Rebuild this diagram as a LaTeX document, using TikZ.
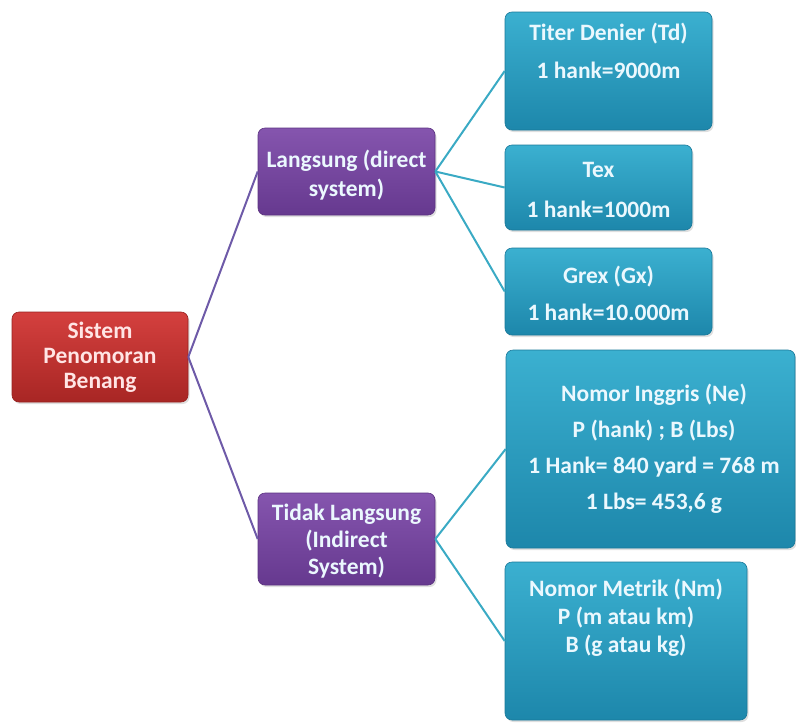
\documentclass[tikz,border=0pt]{standalone}
\usepackage{fontspec}
\setmainfont{Carlito}
\usetikzlibrary{shadows}
\definecolor{redtop}{HTML}{D4403E}
\definecolor{redbot}{HTML}{A82624}
\definecolor{purtop}{HTML}{8555AE}
\definecolor{purbot}{HTML}{66398F}
\definecolor{cyantop}{HTML}{3BB0D0}
\definecolor{cyanbot}{HTML}{1D87AB}
\definecolor{purline}{HTML}{6E5AA8}
\definecolor{cyanline}{HTML}{3AAAC4}
\begin{document}
\begin{tikzpicture}[x=1pt,y=-1pt,
  box/.style={rectangle, rounded corners=7pt, inner sep=0pt,
    drop shadow={shadow xshift=1.5pt, shadow yshift=-2pt, opacity=0.25}},
  redbox/.style={box, top color=redtop, bottom color=redbot, draw=redbot!90!black, line width=0.6pt},
  purbox/.style={box, top color=purtop, bottom color=purbot, draw=purbot!90!black, line width=0.6pt},
  cyanbox/.style={box, top color=cyantop, bottom color=cyanbot, draw=cyanbot!90!black, line width=0.6pt},
  lbl/.style={text=white!92!cyan, align=center, inner sep=0pt},
  pline/.style={draw=purline, line width=2pt},
  cline/.style={draw=cyanline, line width=2pt}
]
\useasboundingbox (0,0) rectangle (796,726);

% boxes
\node[redbox, minimum width=176pt, minimum height=90pt] (root) at (100,357) {};
\node[purbox, minimum width=177pt, minimum height=87pt] (dir) at (346.5,171.5) {};
\node[purbox, minimum width=177pt, minimum height=92pt] (ind) at (346.5,539) {};
\node[cyanbox, minimum width=207pt, minimum height=118pt] (td) at (608.5,71) {};
\node[cyanbox, minimum width=187pt, minimum height=85pt] (tex) at (598.5,187.5) {};
\node[cyanbox, minimum width=207pt, minimum height=87pt] (gx) at (608.5,291.5) {};
\node[cyanbox, minimum width=289pt, minimum height=198pt] (ne) at (650.5,449) {};
\node[cyanbox, minimum width=242pt, minimum height=158pt] (nm) at (626,641) {};

% connectors
\draw[pline] (root.east) -- (dir.west);
\draw[pline] (root.east) -- (ind.west);
\draw[cline] (dir.east) -- (td.west);
\draw[cline] (dir.east) -- (tex.west);
\draw[cline] (dir.east) -- (gx.west);
\draw[cline] (ind.east) -- (ne.west);
\draw[cline] (ind.east) -- (nm.west);

% texts
\node[lbl, text=white!90!red, font=\bfseries\fontsize{23.5}{25}\selectfont] (troot) at (root.center) {Sistem\\Penomoran\\Benang};
\node[lbl, font=\bfseries\fontsize{23.5}{29}\selectfont] (tdir) at (346.5,175) {Langsung (direct\\system)};
\node[lbl, font=\bfseries\fontsize{23.5}{27}\selectfont] (tind) at (346.5,541) {Tidak Langsung\\(Indirect\\System)};
\node[lbl, font=\bfseries\fontsize{23.5}{38}\selectfont] (ttd) at (608.5,51) {Titer Denier (Td)\\1 hank=9000m};
\node[lbl, font=\bfseries\fontsize{23.5}{40}\selectfont] (ttex) at (598.5,190) {Tex\\1 hank=1000m};
\node[lbl, font=\bfseries\fontsize{23.5}{37}\selectfont] (tgx) at (608.5,293) {Grex (Gx)\\1 hank=10.000m};
\node[lbl, font=\bfseries\fontsize{23.5}{36}\selectfont] (tne) at (654,449) {Nomor Inggris (Ne)\\P (hank) ; B (Lbs)\\1 Hank= 840 yard = 768 m\\1 Lbs= 453,6 g};
\node[lbl, font=\bfseries\fontsize{23.5}{28}\selectfont] (tnm) at (626,618) {Nomor Metrik (Nm)\\P (m atau km)\\B (g atau kg)};
\end{tikzpicture}
\end{document}
